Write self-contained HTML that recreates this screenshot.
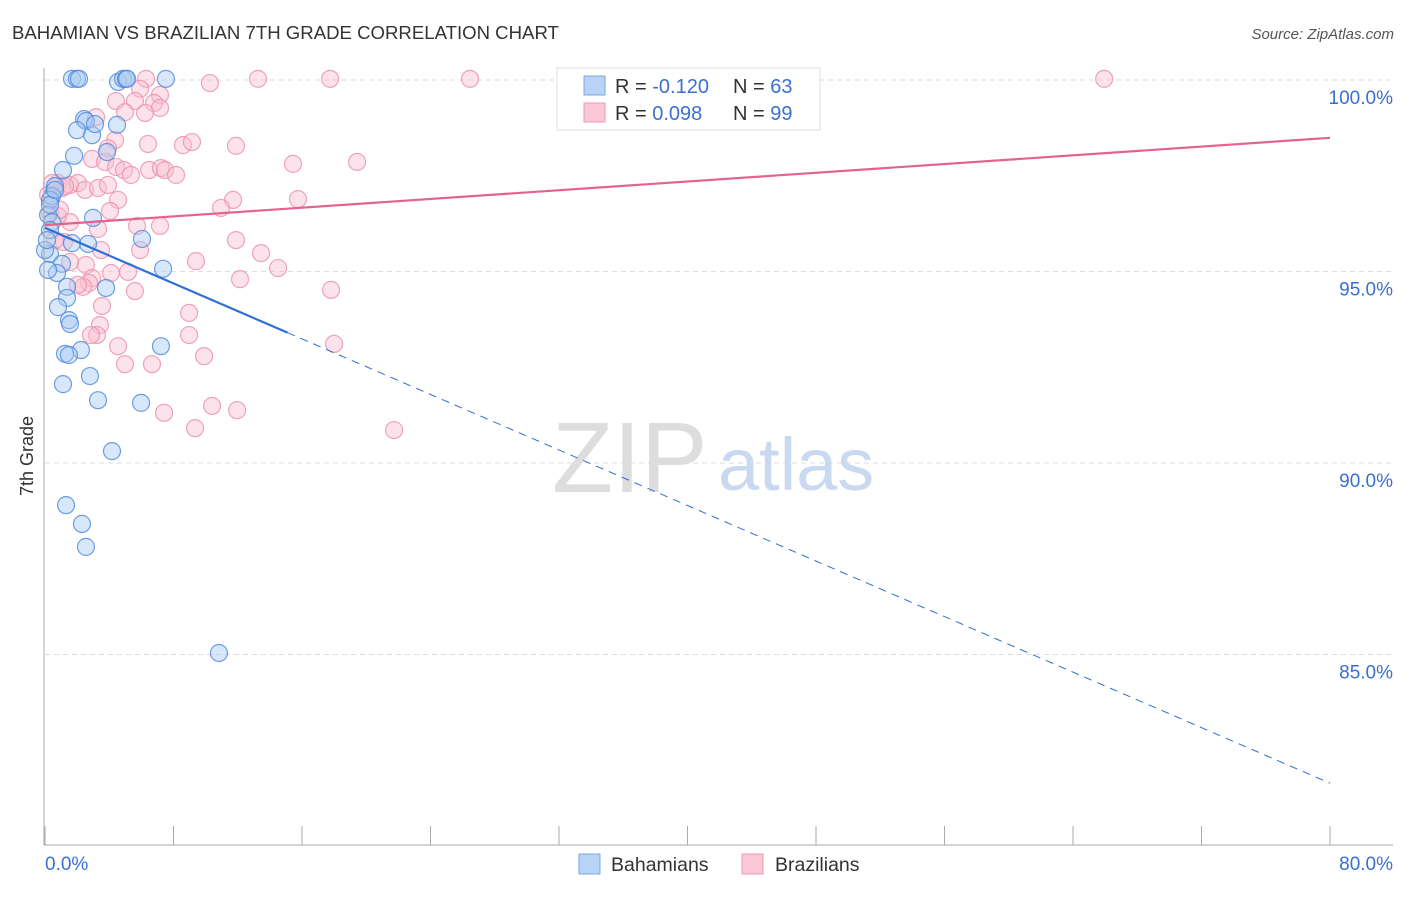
<!DOCTYPE html>
<html><head><meta charset="utf-8"><style>
body{margin:0;background:#fff;font-family:"Liberation Sans",sans-serif}
svg text{font-family:"Liberation Sans",sans-serif}
</style></head><body>
<svg id="chart" width="1406" height="892" viewBox="0 0 1406 892">
<text x="12" y="39" font-size="18.6" fill="#333">BAHAMIAN VS BRAZILIAN 7TH GRADE CORRELATION CHART</text>
<text x="1394" y="39" font-size="15" fill="#555" font-style="italic" text-anchor="end">Source: ZipAtlas.com</text>
<text x="33" y="456" font-size="18" fill="#333" text-anchor="middle" transform="rotate(-90 33 456)">7th Grade</text>
<g id="grid"></g>
<g><text x="552" y="492" font-size="100" fill="#ddd" font-family="Liberation Serif">ZIP</text><text x="718" y="490" font-size="74" fill="#c9daf0">atlas</text></g>
<g id="marks"></g>
<g id="lines"></g>
<g id="axes"></g>
<g>
<rect x="557" y="68" width="263" height="62" fill="#fff" stroke="#ddd"/>
<rect x="584" y="76" width="21" height="19" fill="#b8d3f5" stroke="#7aa8e6"/>
<rect x="584" y="103" width="21" height="19" fill="#fac8d6" stroke="#ee9ab3"/>
<text x="615" y="93" font-size="20" fill="#333">R = <tspan fill="#3a70d0">-0.120</tspan></text>
<text x="733" y="93" font-size="20" fill="#333">N = <tspan fill="#3a70d0">63</tspan></text>
<text x="615" y="120" font-size="20" fill="#333">R = <tspan fill="#3a70d0"> 0.098</tspan></text>
<text x="733" y="120" font-size="20" fill="#333">N = <tspan fill="#3a70d0">99</tspan></text>
</g>
<g>
<rect x="579" y="854" width="21" height="20" fill="#b8d3f5" stroke="#7aa8e6"/>
<text x="611" y="871" font-size="19.5" fill="#333">Bahamians</text>
<rect x="742" y="854" width="21" height="20" fill="#fac8d6" stroke="#ee9ab3"/>
<text x="775" y="871" font-size="19.5" fill="#333">Brazilians</text>
</g>
</svg>
<script>
const yTicks=[100,95,90,85];
const xTickLabels=["0.0%","80.0%"];
const blueX=[1.68,1.99,2.12,4.55,4.86,5.04,5.11,7.53,2.43,2.55,1.99,2.93,3.11,4.48,3.86,1.81,1.12,0.62,0.44,0.31,0.19,2.99,0.44,0.31,6.04,2.68,1.68,0.31,1.06,7.35,0.75,3.80,1.37,1.37,0.81,1.49,1.56,7.22,2.24,1.25,1.49,2.80,1.12,3.30,5.98,4.17,1.31,2.30,2.55,10.83,0.19,0,0.12,0.31,0.62];
const blueY=[100.03,100.03,100.03,99.95,100.03,100.03,100.03,100.03,98.98,98.93,98.69,98.56,98.85,98.83,98.12,98.02,97.65,97.23,96.97,96.87,96.48,96.40,96.29,96.08,95.85,95.72,95.74,95.46,95.20,95.07,94.96,94.57,94.60,94.31,94.07,93.73,93.63,93.05,92.95,92.85,92.82,92.27,92.06,91.64,91.57,90.31,88.90,88.41,87.81,85.04,95.04,95.56,95.82,96.74,97.13];
const pinkX=[6.29,10.27,13.26,17.75,26.46,65.94,5.92,7.16,6.79,4.42,5.60,7.16,4.98,6.23,3.18,4.36,3.92,6.41,8.59,9.15,11.89,2.93,3.74,4.42,4.92,5.35,6.48,7.22,7.47,8.16,15.44,19.43,0.81,1.06,1.56,2.05,2.49,3.30,3.92,4.55,11.71,15.75,10.96,4.05,7.16,5.73,3.30,1.56,0.81,11.89,9.40,13.45,14.51,12.14,5.17,4.11,5.92,3.49,1.18,1.56,2.55,2.93,2.74,2.37,2.05,5.60,17.81,8.97,3.55,3.42,3.24,2.86,8.97,4.55,9.90,4.98,6.66,18.00,7.41,10.40,11.96,9.34,21.73,0.31,0.62,0.93,1.25,0.44,0.19];
const pinkY=[100.03,99.92,100.03,100.03,100.03,100.03,99.77,99.61,99.40,99.45,99.45,99.27,99.16,99.14,99.03,98.43,98.22,98.33,98.30,98.38,98.28,97.94,97.86,97.73,97.65,97.52,97.65,97.70,97.65,97.52,97.81,97.86,97.31,97.18,97.26,97.31,97.13,97.18,97.26,96.87,96.87,96.89,96.66,96.58,96.19,96.19,96.11,96.29,96.45,95.82,95.27,95.48,95.09,94.80,94.99,94.96,95.56,95.56,95.77,95.25,95.17,94.83,94.70,94.60,94.65,94.49,94.52,93.92,94.10,93.60,93.34,93.34,93.34,93.05,92.79,92.58,92.58,93.11,91.31,91.49,91.38,90.91,90.86,96.53,95.82,96.61,97.23,97.31,97.00];
const blueTrend=[96.14,81.64];
const pinkTrend=[96.21,98.49];
const blueSolidEnd=15.1;

const X0=45,X1=1330,Y100=80,PXPER=38.3;
const sx=v=>X0+(X1-X0)*v/80;
const sy=v=>Y100+(100-v)*PXPER;
const NS="http://www.w3.org/2000/svg";
function mk(tag,attrs,parent){const e=document.createElementNS(NS,tag);for(const k in attrs)e.setAttribute(k,attrs[k]);parent.appendChild(e);return e;}
const grid=document.getElementById('grid'),marks=document.getElementById('marks'),lines=document.getElementById('lines'),axes=document.getElementById('axes');
yTicks.forEach(t=>{
 const l=mk('line',{x1:45,x2:1393,y1:sy(t),y2:sy(t),stroke:'#ddd','stroke-dasharray':'5,4'},grid);
 
 
 const tx=mk('text',{x:1393,y:sy(t)+24,'font-size':19,fill:'#3a70d0','text-anchor':'end'},axes);
 tx.textContent=t.toFixed(1)+'%';
 
 
});
const ax=mk('line',{x1:44,x2:44,y1:68,y2:845,stroke:'#aaa'},axes);


const bx=mk('line',{x1:44,x2:1393,y1:845,y2:845,stroke:'#aaa'},axes);


for(let i=0;i<=10;i++){
 const t=mk('line',{x1:sx(i*8),x2:sx(i*8),y1:826,y2:845,stroke:'#aaa'},axes);
 
 
}
[[45,'start'],[1393,'end']].forEach((p,i)=>{
 const t=mk('text',{x:p[0],y:870,'font-size':19,fill:'#3a70d0','text-anchor':p[1]},axes);
 t.textContent=xTickLabels[i];
 
 
});
function pts(xs,ys,fill,stroke,name){
 xs.forEach((x,i)=>{
  const c=mk('circle',{cx:sx(x),cy:sy(ys[i]),r:8.5,fill:fill,'fill-opacity':0.45,stroke:stroke,'stroke-width':1.2,'stroke-opacity':0.8},marks);
  
  
 });
}
pts(pinkX,pinkY,'#f9bfd0','#ec8fab','brazilian-point');
pts(blueX,blueY,'#a9c9f2','#4d87dc','bahamian-point');
const bAt=x=>blueTrend[0]+(blueTrend[1]-blueTrend[0])*x/80;
const b1=mk('line',{x1:sx(0),y1:sy(blueTrend[0]),x2:sx(blueSolidEnd),y2:sy(bAt(blueSolidEnd)),stroke:'#2f6fd6','stroke-width':2.2},lines);


const b2=mk('line',{x1:sx(blueSolidEnd),y1:sy(bAt(blueSolidEnd)),x2:sx(80),y2:sy(blueTrend[1]),stroke:'#2f6fd6','stroke-width':1,'stroke-dasharray':'8,6'},lines);


const p1=mk('line',{x1:sx(0),y1:sy(pinkTrend[0]),x2:sx(80),y2:sy(pinkTrend[1]),stroke:'#e4638e','stroke-width':2.2},lines);


</script>
</body></html>
